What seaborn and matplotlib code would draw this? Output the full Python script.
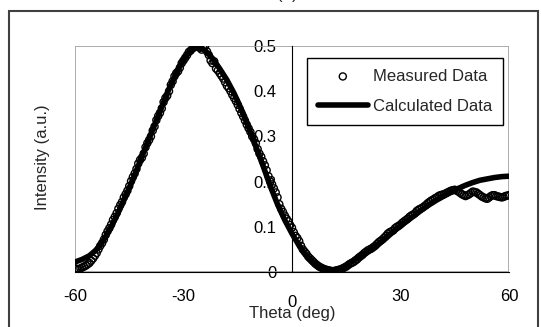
import seaborn as sns
import matplotlib.pyplot as plt
import matplotlib.transforms as mtransforms
from matplotlib.patches import Rectangle
import pandas as pd

# measured data (0.5 deg steps)
theta_meas = [i / 2 for i in range(-120, 121)]
int_meas = [0.008, 0.007, 0.006, 0.008, 0.010, 0.012, 0.014, 0.017, 0.020, 0.025,
            0.030, 0.036, 0.042, 0.050, 0.058, 0.064, 0.072, 0.082, 0.090, 0.097,
            0.105, 0.115, 0.122, 0.130, 0.140, 0.148, 0.155, 0.165, 0.172, 0.180,
            0.190, 0.201, 0.210, 0.218, 0.228, 0.240, 0.248, 0.253, 0.262, 0.276,
            0.285, 0.292, 0.300, 0.313, 0.322, 0.336, 0.345, 0.352, 0.362, 0.376,
            0.385, 0.390, 0.400, 0.414, 0.422, 0.433, 0.440, 0.444, 0.452, 0.462,
            0.468, 0.474, 0.480, 0.487, 0.490, 0.495, 0.497, 0.500, 0.500, 0.496,
            0.492, 0.498, 0.500, 0.488, 0.480, 0.468, 0.462, 0.466, 0.450, 0.446,
            0.440, 0.434, 0.428, 0.420, 0.412, 0.407, 0.400, 0.392, 0.385, 0.378,
            0.370, 0.361, 0.352, 0.344, 0.335, 0.326, 0.318, 0.310, 0.300, 0.294,
            0.285, 0.272, 0.262, 0.255, 0.245, 0.236, 0.225, 0.212, 0.200, 0.194,
            0.185, 0.176, 0.165, 0.150, 0.140, 0.133, 0.125, 0.118, 0.112, 0.104,
            0.098, 0.088, 0.080, 0.075, 0.068, 0.058, 0.050, 0.045, 0.040, 0.034,
            0.030, 0.026, 0.022, 0.018, 0.015, 0.012, 0.010, 0.008, 0.006, 0.005,
            0.004, 0.003, 0.002, 0.002, 0.003, 0.004, 0.005, 0.006, 0.008, 0.010,
            0.012, 0.015, 0.018, 0.020, 0.022, 0.025, 0.028, 0.032, 0.035, 0.038,
            0.042, 0.045, 0.048, 0.050, 0.052, 0.055, 0.058, 0.062, 0.066, 0.069,
            0.072, 0.076, 0.080, 0.085, 0.088, 0.090, 0.092, 0.097, 0.100, 0.102,
            0.105, 0.109, 0.112, 0.115, 0.118, 0.122, 0.125, 0.127, 0.130, 0.135,
            0.138, 0.140, 0.142, 0.145, 0.148, 0.152, 0.155, 0.158, 0.160, 0.163,
            0.165, 0.168, 0.170, 0.171, 0.172, 0.174, 0.176, 0.178, 0.180, 0.181,
            0.182, 0.180, 0.178, 0.175, 0.172, 0.170, 0.168, 0.170, 0.172, 0.175,
            0.178, 0.177, 0.176, 0.173, 0.170, 0.167, 0.165, 0.163, 0.162, 0.165,
            0.168, 0.170, 0.170, 0.168, 0.167, 0.166, 0.165, 0.166, 0.168, 0.169,
            0.170]

# calculated data (2 deg steps)
theta_calc = list(range(-60, 61, 2))
int_calc = [0.022, 0.028, 0.036, 0.050, 0.072, 0.100, 0.132, 0.168, 0.205, 0.245,
            0.285, 0.325, 0.365, 0.405, 0.440, 0.470, 0.492, 0.498, 0.490, 0.473,
            0.450, 0.425, 0.395, 0.360, 0.320, 0.278, 0.235, 0.190, 0.150, 0.115,
            0.085, 0.058, 0.036, 0.020, 0.010, 0.005, 0.004, 0.010, 0.020, 0.032,
            0.040, 0.050, 0.062, 0.075, 0.089, 0.102, 0.114, 0.126, 0.138, 0.149,
            0.159, 0.168, 0.177, 0.185, 0.192, 0.198, 0.203, 0.206, 0.209, 0.211,
            0.212]

xticks = [-60, -30, 0, 30, 60]
yticks = [0, 0.1, 0.2, 0.3, 0.4, 0.5]
ytick_labels = ["0", "0.1", "0.2", "0.3", "0.4", "0.5"]

meas = pd.DataFrame({"theta": theta_meas, "intensity": int_meas})
calc = pd.DataFrame({"theta": theta_calc, "intensity": int_calc})

sns.set_style("white")
plt.rcParams["font.family"] = ["Liberation Sans", "DejaVu Sans"]
plt.rcParams["font.size"] = 12
plt.rcParams["axes.unicode_minus"] = False

fig = plt.figure(figsize=(5.41, 3.27), dpi=100)
ax = fig.add_axes([0.1386, 0.1682, 0.8022, 0.6911])

sns.lineplot(data=calc, x="theta", y="intensity", color="black", lw=4,
             label="Calculated Data", ax=ax, zorder=3)
sns.scatterplot(data=meas, x="theta", y="intensity", marker="o", s=26,
                facecolor="none", edgecolor="black", linewidth=1.0,
                label="Measured Data", ax=ax, zorder=4)

ax.set_xlim(-60, 60)
ax.set_ylim(0, 0.5)
ax.set_xticks(xticks)
ax.set_yticks(yticks)
ax.set_yticklabels(ytick_labels)

# y axis crosses at theta = 0
ax.spines["left"].set_position(("data", 0))
ax.spines["left"].set_color("black")
ax.spines["bottom"].set_color("black")
ax.spines["top"].set_visible(False)
ax.spines["right"].set_visible(False)
ax.add_patch(Rectangle((0, 0), 1, 1, transform=ax.transAxes, fill=False,
                       edgecolor="#a0a0a0", lw=1.2, zorder=1))
ax.tick_params(axis="both", direction="in", length=3, width=1, colors="black",
               labelsize=12)
ax.tick_params(axis="x", pad=12)
ax.tick_params(axis="y", pad=11)

# x tick label at 0 sits a little lower
lab0 = ax.get_xticklabels()[2]
lab0.set_transform(lab0.get_transform() +
                   mtransforms.ScaledTranslation(0, -6 / 100, fig.dpi_scale_trans))

ax.set_xlabel("Theta (deg)", fontsize=12)
ax.xaxis.set_label_coords(0.5, -0.15)
ax.set_ylabel("Intensity (a.u.)", fontsize=12)
ax.yaxis.set_label_coords(-0.058, 0.51)

handles, labels = ax.get_legend_handles_labels()
order = [labels.index("Measured Data"), labels.index("Calculated Data")]
ax.legend([handles[i] for i in order], [labels[i] for i in order],
          loc="upper right", bbox_to_anchor=(0.986, 0.947), borderaxespad=0,
          frameon=True, fancybox=False, edgecolor="black", framealpha=1,
          handlelength=3.0, handletextpad=0.3, labelspacing=0.9, borderpad=0.65,
          fontsize=12)
ax.get_legend().get_frame().set_linewidth(1)

# outer frame and clipped title
fig.patches.append(Rectangle((9 / 541, -0.05), 529 / 541, 1.016, transform=fig.transFigure,
                             fill=False, edgecolor="#404040", lw=1.5))
fig.text(0.532, 0.993, "(a)", ha="center", va="bottom", fontsize=12)

plt.savefig("out.png", dpi=100)
